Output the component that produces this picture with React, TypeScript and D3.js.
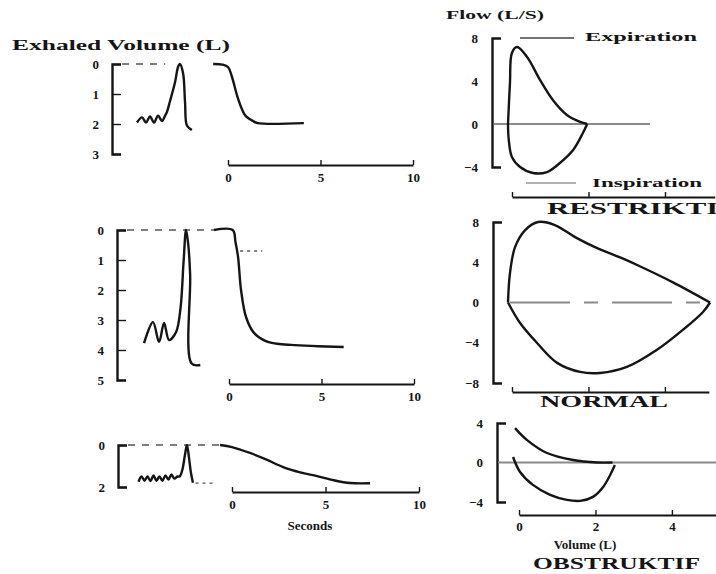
import * as d3 from "d3";
import { useEffect, useRef } from "react";

const W = 716;
const H = 574;
const FONT = "'Liberation Serif', 'DejaVu Serif', serif";
const INK = "#151515";

// ---- left column: exhaled volume (L) against time (s) ----
const timeTicks = [0, 5, 10];
const restrictiveVolTicks = [0, 1, 2, 3];
const normalVolTicks = [0, 1, 2, 3, 4, 5];
const obstructiveVolTicks = [0, 2];

// [seconds, litres]; tidal breathing is drawn before t = 0
const restrictiveTidal = [
  [-4.92, 1.95], [-4.65, 1.78], [-4.43, 1.95], [-4.22, 1.75], [-4.0, 1.95],
  [-3.78, 1.72], [-3.57, 1.9], [-3.4, 1.72], [-3.3, 1.6], [-3.14, 1.25],
  [-2.86, 0.6], [-2.7, 0.1], [-2.6, 0.0], [-2.43, 0.3], [-2.32, 1.3],
  [-2.22, 2.05], [-1.95, 2.2],
];
const restrictiveForced = [
  [-0.8, 0], [-0.3, 0.02], [0, 0.1], [0.2, 0.4], [0.5, 1.07], [0.75, 1.5],
  [0.95, 1.73], [1.35, 1.9], [1.6, 1.97], [4.1, 1.97],
];

const normalTidal = [
  [-4.59, 3.77], [-4.11, 3.07], [-3.78, 3.73], [-3.51, 3.1], [-3.24, 3.67],
  [-2.86, 3.4], [-2.62, 2.6], [-2.45, 1.0], [-2.32, 0], [-2.2, 0.5],
  [-2.1, 1.5], [-2.02, 4.45], [-1.55, 4.5],
];
const normalForced = [
  [-0.81, 0], [0.2, 0], [0.35, 0.4], [0.49, 0.9], [0.65, 2.0], [0.92, 2.9],
  [1.35, 3.43], [2.1, 3.73], [3.35, 3.83], [6.2, 3.9],
];
const normalFev1Mark = [[0.6, 0.7], [1.8, 0.7]];

const obstructiveTidal = [
  [-5.0, 1.75], [-4.84, 1.5], [-4.68, 1.7], [-4.52, 1.5], [-4.36, 1.72],
  [-4.2, 1.45], [-4.04, 1.7], [-3.88, 1.5], [-3.72, 1.7], [-3.56, 1.45],
  [-3.4, 1.65], [-3.24, 1.4], [-3.08, 1.6], [-2.92, 1.5], [-2.8, 1.5],
  [-2.66, 1.2], [-2.52, 0.5], [-2.41, 0], [-2.3, 0.6], [-2.2, 1.3], [-2.09, 1.8],
];
const obstructiveForced = [
  [-0.64, 0], [0, 0.1], [0.96, 0.38], [1.85, 0.7], [2.73, 1.05], [3.65, 1.3],
  [4.55, 1.48], [5.45, 1.68], [6.31, 1.81], [7.38, 1.82],
];
const obstructiveResidualMark = [[-1.95, 1.82], [-0.9, 1.82]];

// ---- right column: flow (L/s) against volume (L) ----
const volTicks = [0, 2, 4];
const restrictiveFlowTicks = [-4, 0, 4, 8];
const normalFlowTicks = [-8, -4, 0, 4, 8];
const obstructiveFlowTicks = [-4, 0, 4];

// [litres, L/s]
const restrictiveExp = [
  [0, 0], [0.05, 3.8], [0.1, 6.6], [0.23, 7.16], [0.49, 6.23], [0.82, 4.1],
  [1.15, 2.23], [1.51, 0.84], [1.85, 0.19], [2.03, 0],
];
const restrictiveInsp = [
  [0, 0], [0.02, -1.49], [0.1, -3.07], [0.31, -4.0], [0.64, -4.56],
  [1.0, -4.47], [1.33, -3.63], [1.67, -2.42], [1.92, -0.84], [2.03, 0],
];
const normalExp = [
  [0, 0], [0.05, 2.9], [0.18, 5.5], [0.44, 7.2], [0.77, 8.0], [1.2, 7.7],
  [1.72, 6.5], [2.23, 5.5], [2.92, 4.4], [3.38, 3.6], [4.23, 2.0], [5.18, 0],
];
const normalInsp = [
  [0, 0], [0.31, -2.04], [0.74, -4.0], [1.26, -6.0], [1.85, -6.9],
  [2.36, -7.0], [3.05, -6.4], [3.82, -4.7], [4.49, -2.7], [5.0, -0.94], [5.18, 0],
];
const obstructiveExp = [
  [0, 3.48], [0.31, 2.27], [0.82, 0.96], [1.49, 0.25], [2.1, 0], [2.5, 0],
];
const obstructiveInsp = [
  [-0.05, 0.56], [0.13, -0.96], [0.46, -2.27], [0.9, -3.28], [1.33, -3.79],
  [1.67, -3.89], [2.0, -3.48], [2.26, -2.47], [2.44, -1.26], [2.56, -0.25],
];

type Sel = d3.Selection<SVGGElement, unknown, null, undefined>;

const styleAxis = (a: Sel, fs = 13) => {
  a.select(".domain").attr("stroke", INK).attr("stroke-width", 2.4);
  a.selectAll(".tick line").attr("stroke", INK).attr("stroke-width", 1.4);
  a.selectAll(".tick text")
    .attr("font-family", FONT)
    .attr("font-weight", "bold")
    .attr("font-size", fs)
    .attr("fill", INK);
};

const drawSpiro = (svg: Sel, p: any) => {
  const x = d3.scaleLinear().domain([0, 10]).range([p.x0, p.x1]);
  const y = d3.scaleLinear().domain([0, p.vMax]).range([p.yTop, p.yBot]);
  const line = d3
    .line<number[]>()
    .x((d) => x(d[0]))
    .y((d) => y(d[1]))
    .curve(d3.curveCatmullRom.alpha(0.5));

  const va = svg
    .append("g")
    .attr("transform", `translate(${p.axisX},0)`)
    .call(
      d3
        .axisLeft(y)
        .tickValues(p.ticks)
        .tickFormat(d3.format("d"))
        .tickSizeInner(-9)
        .tickSizeOuter(-9)
        .tickPadding(13),
    );
  styleAxis(va);
  va.attr("fill", "none");

  const ta = svg
    .append("g")
    .attr("transform", `translate(0,${p.axisY})`)
    .call(d3.axisBottom(x).tickValues(timeTicks).tickSizeInner(-5).tickSizeOuter(0).tickPadding(8));
  styleAxis(ta);
  ta.select(".domain").attr("stroke-width", 1.8);

  // zero-volume reference
  svg
    .append("line")
    .attr("x1", p.axisX + 10)
    .attr("x2", x(p.dashTo))
    .attr("y1", y(0))
    .attr("y2", y(0))
    .attr("stroke", "#555")
    .attr("stroke-width", 1.5)
    .attr("stroke-dasharray", "7,7");

  (p.marks || []).forEach((m: number[][]) => {
    svg
      .append("path")
      .attr("d", d3.line<number[]>().x((d) => x(d[0])).y((d) => y(d[1]))(m))
      .attr("stroke", "#555")
      .attr("stroke-width", 1.3)
      .attr("stroke-dasharray", "3,4")
      .attr("fill", "none");
  });

  [p.tidal, p.forced].forEach((s) => {
    svg
      .append("path")
      .attr("d", line(s))
      .attr("fill", "none")
      .attr("stroke", INK)
      .attr("stroke-width", 2.4)
      .attr("stroke-linejoin", "round");
  });
};

const drawLoop = (svg: Sel, p: any) => {
  const x = d3.scaleLinear().domain([0, 5]).range([p.x0, p.x0 + 5 * 39]);
  const y = d3.scaleLinear().domain(p.yDomain).range(p.yRange);
  const line = d3
    .line<number[]>()
    .x((d) => x(d[0]))
    .y((d) => y(d[1]))
    .curve(d3.curveCatmullRom.alpha(0.5));

  const fa = svg
    .append("g")
    .attr("transform", `translate(${p.axisX},0)`)
    .call(
      d3
        .axisLeft(y)
        .tickValues(p.ticks)
        .tickFormat(d3.format("d"))
        .tickSizeInner(0)
        .tickSizeOuter(-9)
        .tickPadding(14),
    );
  styleAxis(fa);
  fa.attr("fill", "none");

  svg
    .append("line")
    .attr("x1", p.zeroFrom)
    .attr("x2", p.zeroTo)
    .attr("y1", y(0))
    .attr("y2", y(0))
    .attr("stroke", "#8a8a8a")
    .attr("stroke-width", 2)
    .attr("stroke-dasharray", p.zeroDash || null);

  const va = svg
    .append("g")
    .attr("transform", `translate(0,${p.volY})`)
    .call(
      d3
        .axisBottom(x.copy().domain([0, p.volMax]).range([p.x0 + 4, x(p.volMax)]))
        .tickValues(volTicks)
        .tickFormat(p.volLabels ? d3.format("d") : () => "")
        .tickSizeInner(-5)
        .tickSizeOuter(0)
        .tickPadding(7),
    );
  styleAxis(va);
  va.select(".domain").attr("stroke-width", 1.8);

  [p.exp, p.insp].forEach((s) => {
    svg
      .append("path")
      .attr("d", line(s))
      .attr("fill", "none")
      .attr("stroke", INK)
      .attr("stroke-width", 2.4)
      .attr("stroke-linejoin", "round");
  });
};

const App = () => {
  const ref = useRef<SVGSVGElement>(null);

  useEffect(() => {
    const root = d3.select(ref.current);
    root.select("#plot").remove();
    const svg = root.append("g").attr("id", "plot") as unknown as Sel;

    drawSpiro(svg, {
      x0: 228, x1: 413, axisX: 112, yTop: 64, yBot: 154, vMax: 3, axisY: 165,
      ticks: restrictiveVolTicks, tidal: restrictiveTidal, forced: restrictiveForced,
      dashTo: -3.4,
    });
    drawSpiro(svg, {
      x0: 229, x1: 414, axisX: 117, yTop: 230, yBot: 380, vMax: 5, axisY: 384,
      ticks: normalVolTicks, tidal: normalTidal, forced: normalForced,
      dashTo: -0.8, marks: [normalFev1Mark],
    });
    drawSpiro(svg, {
      x0: 232, x1: 419, axisX: 118, yTop: 445, yBot: 487, vMax: 2, axisY: 492,
      ticks: obstructiveVolTicks, tidal: obstructiveTidal, forced: obstructiveForced,
      dashTo: -0.64, marks: [obstructiveResidualMark],
    });

    drawLoop(svg, {
      x0: 508, axisX: 492, yDomain: [-4, 8], yRange: [167, 38], ticks: restrictiveFlowTicks,
      exp: restrictiveExp, insp: restrictiveInsp, zeroFrom: 494, zeroTo: 650,
      volY: 197, volMax: 5.3,
    });
    drawLoop(svg, {
      x0: 508, axisX: 493, yDomain: [-8, 8], yRange: [383, 222], ticks: normalFlowTicks,
      exp: normalExp, insp: normalInsp, zeroFrom: 510, zeroTo: 710, zeroDash: "60,14,14,14",
      volY: 392, volMax: 5.15,
    });
    drawLoop(svg, {
      x0: 515, axisX: 497, yDomain: [-4, 4], yRange: [502, 423], ticks: obstructiveFlowTicks,
      exp: obstructiveExp, insp: obstructiveInsp, zeroFrom: 498, zeroTo: 716,
      volY: 515, volMax: 5.2, volLabels: true,
    });
  }, []);

  const txt = { fontFamily: FONT, fontWeight: "bold" as const, fill: INK };

  return (
    <svg
      ref={ref}
      width={W}
      height={H}
      style={{ position: "absolute", left: 0, top: 0, background: "#fff" }}
    >
      <rect width={W} height={H} fill="#fff" />
      <text x={12} y={50} fontSize={15} textLength={218} lengthAdjust="spacingAndGlyphs" {...txt}>
        Exhaled Volume (L)
      </text>
      <text x={310} y={530} fontSize={13} textAnchor="middle" {...txt}>
        Seconds
      </text>
      <text x={446} y={19} fontSize={13} textLength={98} lengthAdjust="spacingAndGlyphs" {...txt}>
        Flow (L/S)
      </text>
      <line x1={520} x2={574} y1={38} y2={38} stroke="#444" strokeWidth={1.4} />
      <text x={585} y={41} fontSize={13} textLength={112} lengthAdjust="spacingAndGlyphs" {...txt}>
        Expiration
      </text>
      <line x1={526} x2={576} y1={183} y2={183} stroke="#999" strokeWidth={1.6} />
      <text x={592} y={187} fontSize={13} textLength={110} lengthAdjust="spacingAndGlyphs" {...txt}>
        Inspiration
      </text>
      <text x={547} y={214} fontSize={17} textLength={190} lengthAdjust="spacingAndGlyphs" {...txt}>
        RESTRIKTIF
      </text>
      <text x={540} y={407} fontSize={17} textLength={128} lengthAdjust="spacingAndGlyphs" {...txt}>
        NORMAL
      </text>
      <text x={585} y={549} fontSize={13} textAnchor="middle" {...txt}>
        Volume (L)
      </text>
      <text x={533} y={569} fontSize={17} textLength={167} lengthAdjust="spacingAndGlyphs" {...txt}>
        OBSTRUKTIF
      </text>
    </svg>
  );
};

export default App;
